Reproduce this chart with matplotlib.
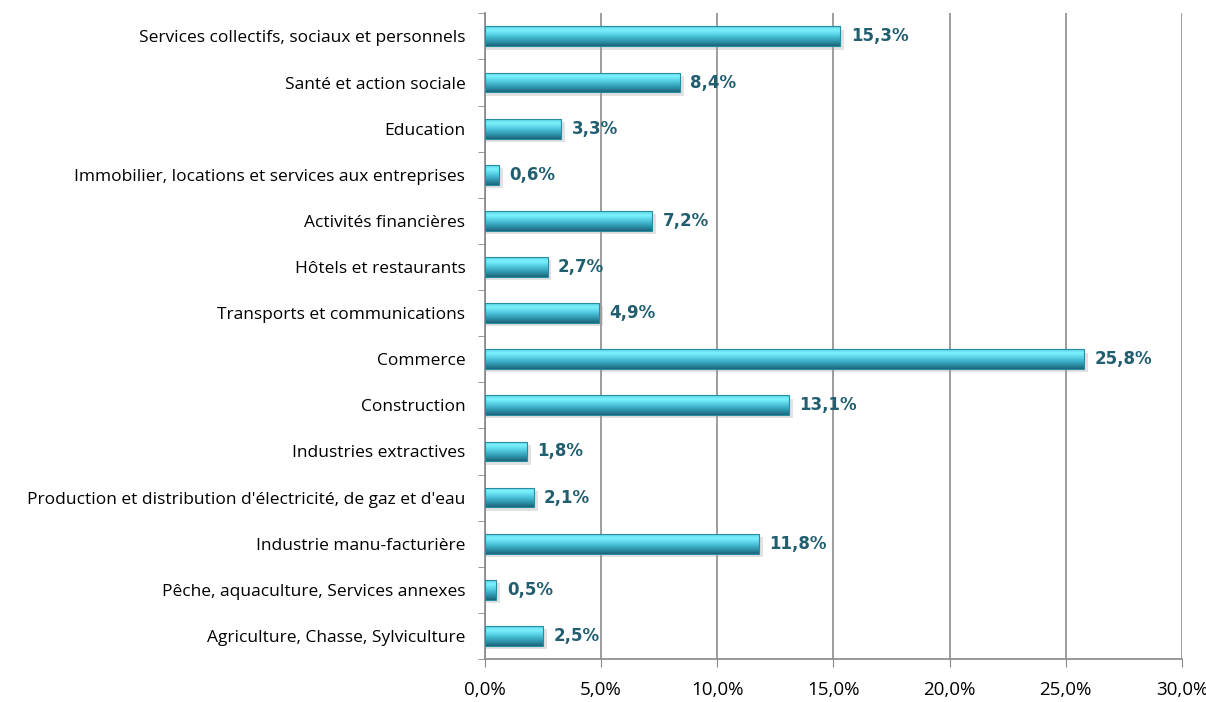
import matplotlib
matplotlib.use("Agg")
import matplotlib.pyplot as plt
import numpy as np

# Categories listed from bottom to top
categories = [
    "Agriculture, Chasse, Sylviculture",
    "Pêche, aquaculture, Services annexes",
    "Industrie manu-facturière",
    "Production et distribution d'électricité, de gaz et d'eau",
    "Industries extractives",
    "Construction",
    "Commerce",
    "Transports et communications",
    "Hôtels et restaurants",
    "Activités financières",
    "Immobilier, locations et services aux entreprises",
    "Education",
    "Santé et action sociale",
    "Services collectifs, sociaux et personnels",
]
values = [2.5, 0.5, 11.8, 2.1, 1.8, 13.1, 25.8, 4.9, 2.7, 7.2, 0.6, 3.3, 8.4, 15.3]
xticks = [0, 5, 10, 15, 20, 25, 30]

BAR_HEIGHT = 0.43
LABEL_COLOR = "#215e70"

plt.rcParams['font.family'] = ['Open Sans', 'DejaVu Sans']

fig = plt.figure(figsize=(12.06, 7.02), dpi=100)
ax = fig.add_axes([0.402, 0.0613, 0.578, 0.9197])

# vertical gradient colormap for the bars (dark bottom -> light top)
grad_colors = ["#1d6578", "#2c8ea6", "#3fb3cb", "#5cd5ea", "#7cf2fc", "#58d3e8"]
cmap = matplotlib.colors.LinearSegmentedColormap.from_list("bar", grad_colors)
grad = np.linspace(0, 1, 64).reshape(-1, 1)

y = np.arange(len(categories))
for yi, v in zip(y, values):
    # soft shadow
    ax.add_patch(plt.Rectangle((0.05, yi - BAR_HEIGHT / 2 - 0.07), v + 0.12, BAR_HEIGHT,
                               color="#a0a0a0", alpha=0.3, lw=0, zorder=2))
    im = ax.imshow(grad, extent=[0, v, yi - BAR_HEIGHT / 2, yi + BAR_HEIGHT / 2],
                   origin="lower", aspect="auto", cmap=cmap, zorder=3)
    rect = plt.Rectangle((0, yi - BAR_HEIGHT / 2), v, BAR_HEIGHT,
                         fill=False, edgecolor="#2a8ca3", lw=0.8, zorder=4)
    ax.add_patch(rect)
    im.set_clip_path(rect)
    ax.text(v + 0.45, yi, f"{v:.1f}%".replace(".", ","), va="center", ha="left",
            fontsize=12, fontweight="bold", color=LABEL_COLOR, zorder=5,
            family="DejaVu Sans")

ax.set_xlim(0, 30)
ax.set_ylim(-0.5, len(categories) - 0.5)
ax.set_xticks(xticks)
ax.set_xticklabels([f"{t:.1f}%".replace(".", ",") for t in xticks], fontsize=13.5)
ax.set_yticks(y)
ax.set_yticklabels(categories, fontsize=12.5)
ax.set_yticks(np.arange(-0.5, len(categories), 1), minor=True)

ax.tick_params(axis="y", which="major", length=0, pad=14)
ax.tick_params(axis="y", which="minor", length=5, color="#888888", direction="out")
ax.tick_params(axis="x", length=6, color="#888888", direction="out", pad=10)

ax.grid(axis="x", color="#8c8c8c", lw=1.2, zorder=1)
ax.set_axisbelow(True)
for s in ["top", "right"]:
    ax.spines[s].set_visible(False)
ax.spines["left"].set_color("#888888")
ax.spines["bottom"].set_color("#888888")
ax.spines["left"].set_linewidth(1.2)
ax.spines["bottom"].set_linewidth(1.2)

fig.savefig("out.png", dpi=100)
